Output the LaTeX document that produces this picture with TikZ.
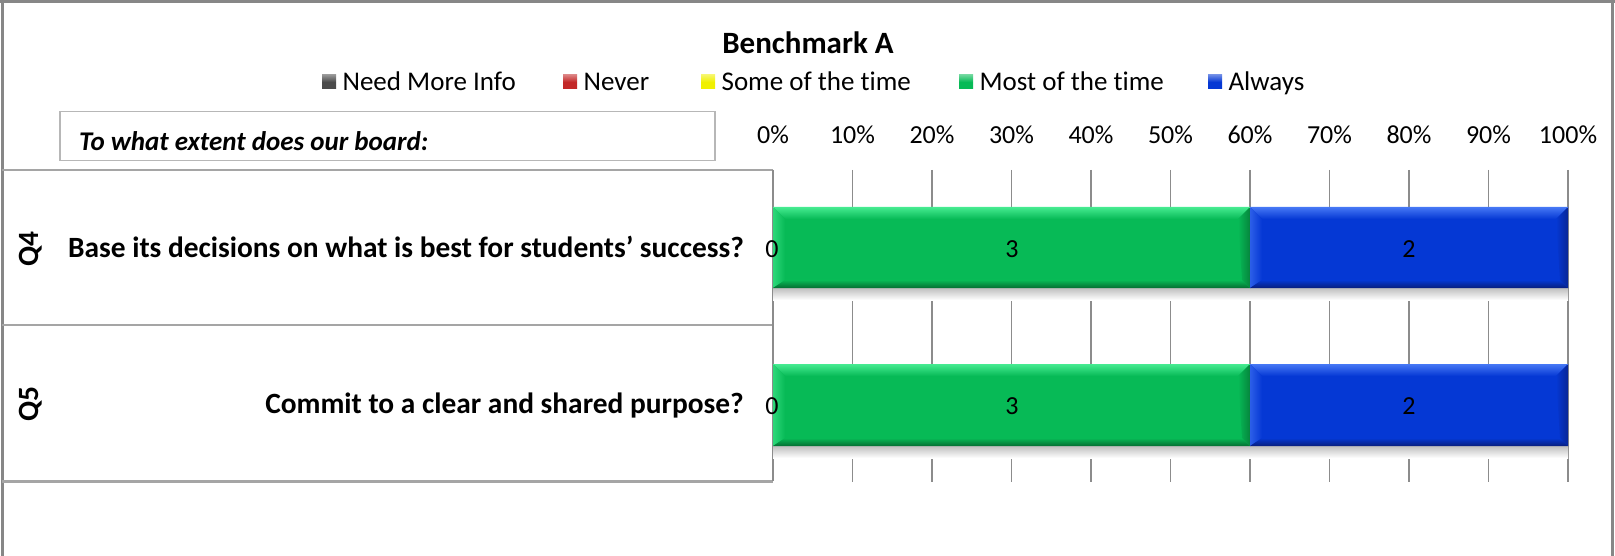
\documentclass[tikz,border=0pt]{standalone}
\usepackage{fontspec}
\setmainfont[Ligatures=NoCommon]{Carlito}
\definecolor{gmain}{RGB}{7,186,86}
\definecolor{glight}{RGB}{70,235,145}
\definecolor{gdark}{RGB}{4,110,50}
\definecolor{bmain}{RGB}{5,56,212}
\definecolor{blight}{RGB}{70,120,245}
\definecolor{bdark}{RGB}{8,30,125}
\definecolor{lgray}{RGB}{75,75,75}
\definecolor{lred}{RGB}{195,40,40}
\definecolor{lyellow}{RGB}{240,240,0}
\definecolor{gridc}{RGB}{140,140,140}
\definecolor{tabc}{RGB}{165,165,165}
\definecolor{framec}{RGB}{135,135,135}
\begin{document}
\begin{tikzpicture}[x=1pt,y=-1pt,
  txt/.style={inner sep=0pt,font=\fontsize{26}{30}\selectfont},
  legtxt/.style={inner sep=0pt,font=\fontsize{27}{31}\selectfont},
  qtxt/.style={inner sep=0pt,font=\fontsize{29.4}{33}\selectfont\bfseries},
  gridline/.style={draw=gridc,line width=1.6pt},
  tabline/.style={draw=tabc,line width=2pt},
  legsq/.style={minimum size=14pt,inner sep=0pt,draw=none}]
\useasboundingbox (0,0) rectangle (1615,556);
% frame
\draw[framec,line width=3pt] (0,1.5) -- (1615,1.5);
\draw[framec,line width=3pt] (2,0) -- (2,556);
\draw[framec,line width=3pt] (1612.5,0) -- (1612.5,556);
% title
\node[inner sep=0pt,font=\fontsize{31}{35}\selectfont\bfseries] (title) at (808,43) {Benchmark A};
% legend
\foreach \sx/\col/\tx/\nm in {322/lgray/Need More Info/l1, 563/lred/Never/l2, 701/lyellow/Some of the time/l3, 959/gmain/Most of the time/l4, 1208/bmain/Always/l5}{
  \node[legsq,anchor=west,top color=\col!60!white,bottom color=\col,middle color=\col] (\nm sq) at (\sx,82) {};
  \node[legtxt,anchor=west] (\nm) at ([xshift=6pt,yshift=-2pt]\nm sq.east) {\strut\tx};
}
% question box
\node[draw=tabc!80,line width=1.5pt,minimum width=655pt,minimum height=49pt,anchor=north west,inner sep=0pt] (qbox) at (59,111) {};
\node[inner sep=0pt,anchor=west,font=\fontsize{27}{31}\selectfont\bfseries\itshape] (qboxt) at (79,141) {To what extent does our board:};
% axis labels
\foreach \k in {0,...,10}{
  \pgfmathsetmacro{\xx}{773+79.5*\k}
  \node[txt] (ax\k) at (\xx,135) {\pgfmathparse{int(\k*10)}\pgfmathresult\%};
}
% grid lines
\foreach \k in {1,...,10}{
  \pgfmathsetmacro{\xx}{773+79.5*\k}
  \coordinate (gt\k) at (\xx,170);
  \coordinate (gb\k) at (\xx,482);
  \draw[gridline] (gt\k) -- (gb\k);
}
% table
\coordinate (t1) at (2,170); \coordinate (t2) at (773,170);
\coordinate (m1) at (2,325); \coordinate (m2) at (773,325);
\coordinate (b1) at (2,481); \coordinate (b2) at (773,481);
\draw[tabline] (t1) -- (t2);
\draw[tabline] (m1) -- (m2);
\draw[tabline,line width=3pt] (b1) -- (b2);
\draw[draw=gridc,line width=1.2pt] (t2) -- (b2);
% bars
\foreach \ya/\yb in {207/288, 364/446}{
  \shade[top color=black!25,bottom color=white] (773,\yb) rectangle (1568,\yb+12);
  \fill[gmain] (773,\ya) rectangle (1250,\yb);
  \shade[top color=glight,bottom color=gmain] (773,\ya) -- (1250,\ya) -- (1238,\ya+12) -- (785,\ya+12) -- cycle;
  \shade[left color=glight!60!gmain,right color=gmain] (773,\ya) -- (785,\ya+12) -- (785,\yb-8) -- (773,\yb) -- cycle;
  \shade[top color=gmain,bottom color=gdark] (773,\yb) -- (785,\yb-8) -- (1242,\yb-8) -- (1250,\yb) -- cycle;
  \shade[left color=gmain,right color=gdark!70!gmain] (1250,\ya) -- (1238,\ya+12) -- (1242,\yb-8) -- (1250,\yb) -- cycle;
  \draw[glight,line width=1pt] (773,\ya+0.5) -- (1250,\ya+0.5);
  \fill[bmain] (1250,\ya) rectangle (1568,\yb);
  \shade[top color=blight,bottom color=bmain] (1250,\ya) -- (1568,\ya) -- (1556,\ya+12) -- (1262,\ya+12) -- cycle;
  \shade[left color=blight!60!bmain,right color=bmain] (1250,\ya) -- (1262,\ya+12) -- (1262,\yb-8) -- (1250,\yb) -- cycle;
  \shade[top color=bmain,bottom color=bdark] (1250,\yb) -- (1262,\yb-8) -- (1560,\yb-8) -- (1568,\yb) -- cycle;
  \shade[left color=bmain,right color=bdark!70!bmain] (1568,\ya) -- (1556,\ya+12) -- (1560,\yb-8) -- (1568,\yb) -- cycle;
  \draw[blight,line width=1pt] (1250,\ya+0.5) -- (1568,\ya+0.5);
}
% bar labels
\node[txt] (q4z) at (772,249) {0};
\node[txt] (q4g) at (1012,249) {3};
\node[txt] (q4b) at (1409,249) {2};
\node[txt] (q5z) at (772,406) {0};
\node[txt] (q5g) at (1012,406) {3};
\node[txt] (q5b) at (1409,406) {2};
% question labels
\node[qtxt,rotate=90] (q4) at (31,249) {Q4};
\node[qtxt,rotate=90] (q5) at (31,404) {Q5};
\node[qtxt,anchor=east] (q4t) at (744,251) {\strut Base its decisions on what is best for students’ success?};
\node[qtxt,anchor=east] (q5t) at (744,407) {\strut Commit to a clear and shared purpose?};
\end{tikzpicture}
\end{document}
